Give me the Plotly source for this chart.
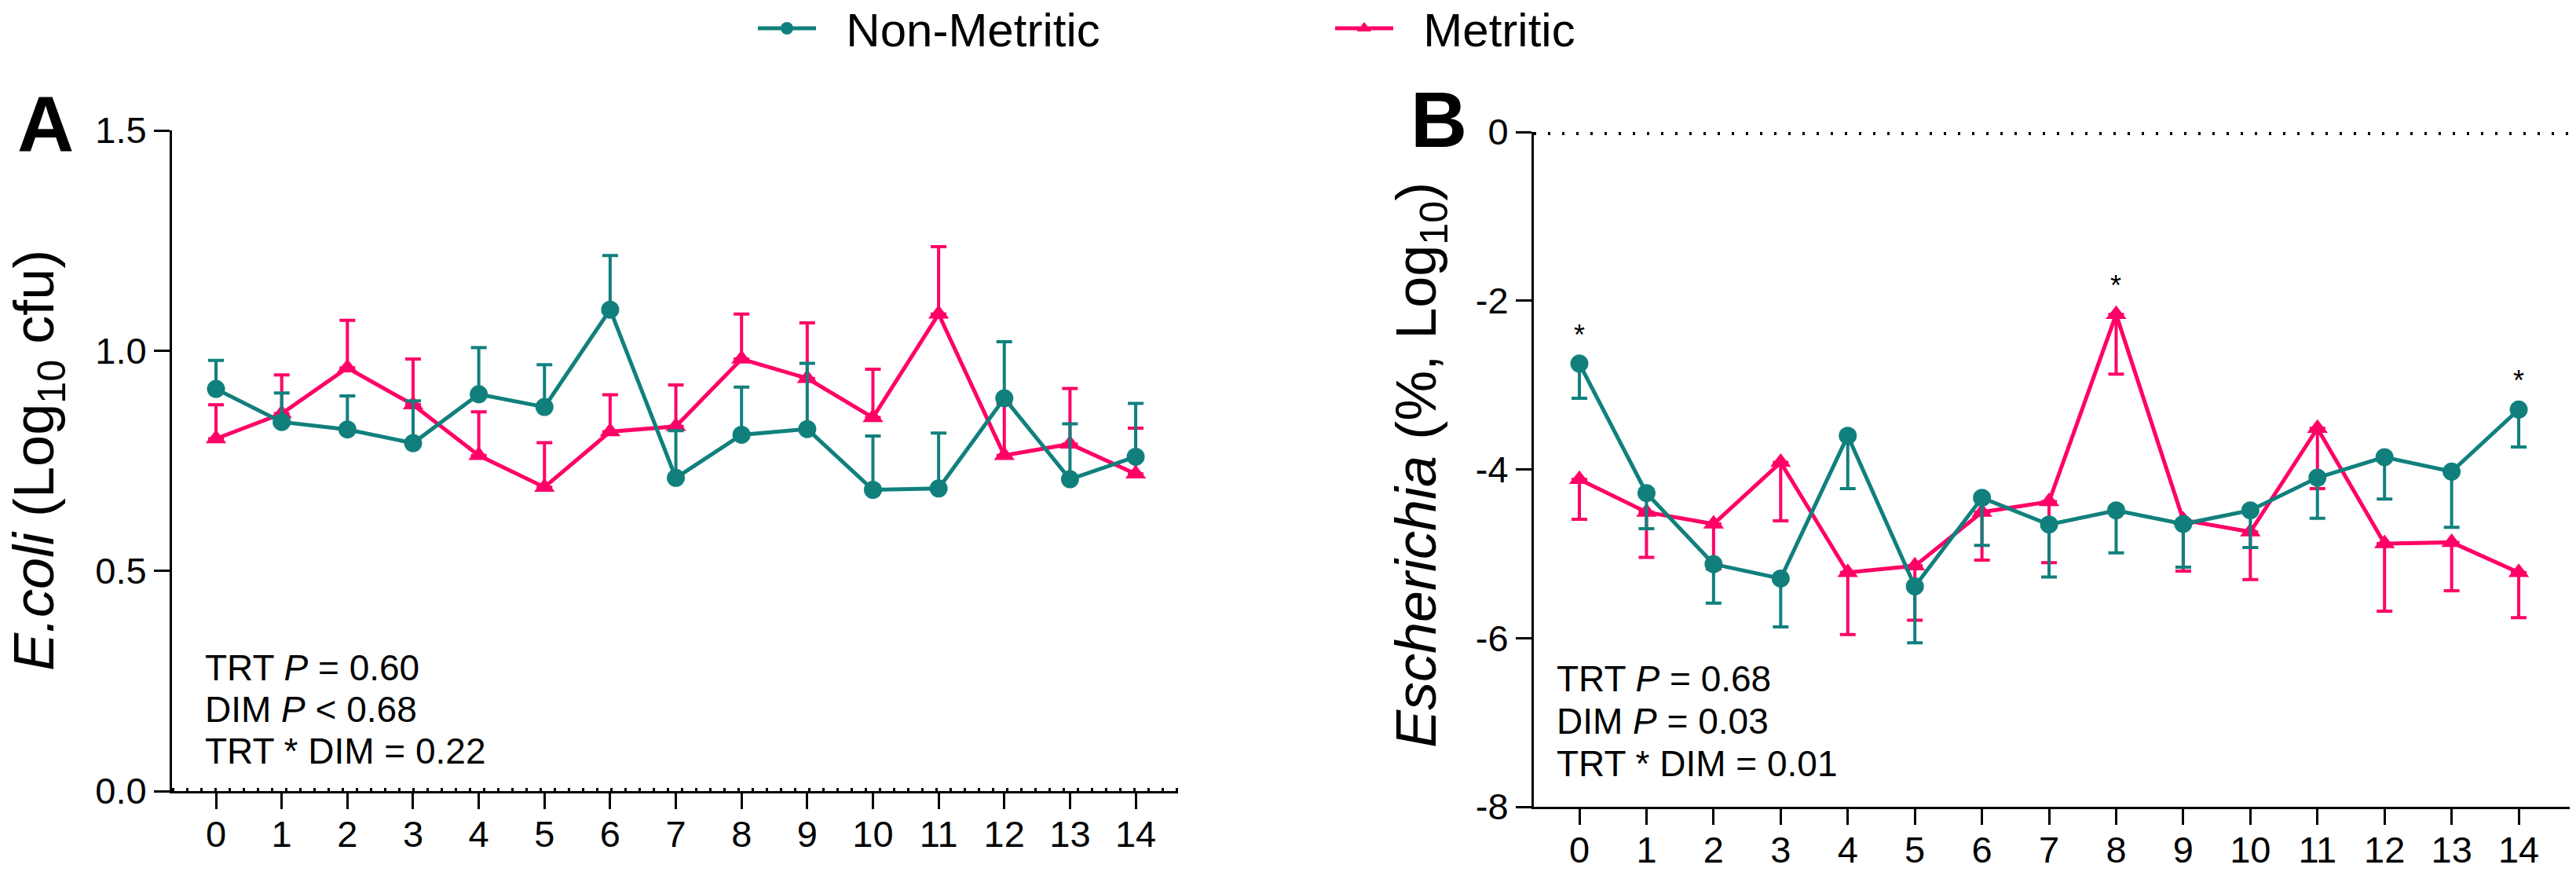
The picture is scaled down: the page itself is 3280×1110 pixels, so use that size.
import plotly.graph_objects as go

# ---------------- data ----------------
dim = list(range(15))
dim_labels = [str(d) for d in dim]

ecoli_nonmetritic = [0.913, 0.838, 0.821, 0.790, 0.901, 0.872, 1.093, 0.711, 0.809, 0.822, 0.684, 0.687, 0.892, 0.708, 0.759]
ecoli_nonmetritic_sem = [0.065, 0.066, 0.076, 0.096, 0.106, 0.096, 0.123, 0.107, 0.108, 0.149, 0.122, 0.126, 0.128, 0.126, 0.121]
ecoli_metritic = [0.800, 0.857, 0.961, 0.877, 0.762, 0.690, 0.816, 0.828, 0.981, 0.937, 0.848, 1.083, 0.762, 0.788, 0.720]
ecoli_metritic_sem = [0.077, 0.088, 0.108, 0.104, 0.099, 0.101, 0.084, 0.094, 0.102, 0.126, 0.110, 0.153, 0.118, 0.126, 0.104]

esch_nonmetritic = [-2.746, -4.281, -5.123, -5.294, -3.601, -5.387, -4.337, -4.654, -4.486, -4.647, -4.486, -4.098, -3.855, -4.026, -3.290]
esch_nonmetritic_sem = [0.411, 0.422, 0.463, 0.574, 0.627, 0.668, 0.565, 0.621, 0.503, 0.513, 0.441, 0.481, 0.497, 0.662, 0.444]
esch_metritic = [-4.119, -4.507, -4.647, -3.917, -5.222, -5.144, -4.507, -4.383, -2.162, -4.601, -4.741, -3.513, -4.880, -4.865, -5.222]
esch_metritic_sem = [0.472, 0.535, 0.533, 0.693, 0.736, 0.644, 0.569, 0.724, 0.708, 0.606, 0.565, 0.715, 0.802, 0.575, 0.535]

ecoli_yticks = [0.0, 0.5, 1.0, 1.5]
ecoli_yticklabels = ["0.0", "0.5", "1.0", "1.5"]
esch_yticks = [0, -2, -4, -6, -8]
esch_yticklabels = ["0", "-2", "-4", "-6", "-8"]

# significant days in panel B: (day, group)
esch_sig_days = [0, 8, 14]
esch_sig_groups = ["Non-Metritic", "Metritic", "Non-Metritic"]

stats_a = ["TRT <i>P</i> = 0.60", "DIM <i>P</i> &lt; 0.68", "TRT * DIM = 0.22"]
stats_b = ["TRT <i>P</i> = 0.68", "DIM <i>P</i> = 0.03", "TRT * DIM = 0.01"]

# ---------------- style ----------------
W, H = 3280, 1110
TEAL = "#11807D"
PINK = "#FF0066"
FONT = "Liberation Sans, Arial, Helvetica, sans-serif"
NBSP = "\u00a0\u00a0"
zeros = [0] * len(dim)

fig = go.Figure()

def add_series(xaxis, yaxis, y, sem, up, name, color, symbol, show, rank):
    err = dict(type="data", symmetric=False, color=color, thickness=4, width=10)
    if up:
        err.update(array=sem, arrayminus=zeros)
    else:
        err.update(array=zeros, arrayminus=sem)
    fig.add_trace(go.Scatter(
        x=dim, y=y, name=NBSP + name, mode="lines+markers",
        line=dict(color=color, width=5),
        marker=dict(color=color, size=23, symbol=symbol),
        error_y=err, showlegend=show, legendrank=rank,
        xaxis=xaxis, yaxis=yaxis))

# panel A (metritic drawn first so non-metritic sits on top)
add_series("x", "y", ecoli_metritic, ecoli_metritic_sem, True, "Metritic", PINK, "triangle-up", True, 2)
add_series("x", "y", ecoli_nonmetritic, ecoli_nonmetritic_sem, True, "Non-Metritic", TEAL, "circle", True, 1)
# panel B
add_series("x2", "y2", esch_metritic, esch_metritic_sem, False, "Metritic", PINK, "triangle-up", False, 2)
add_series("x2", "y2", esch_nonmetritic, esch_nonmetritic_sem, False, "Non-Metritic", TEAL, "circle", False, 1)

axis_common = dict(showline=True, linecolor="black", linewidth=3, ticks="outside",
                   ticklen=20, tickwidth=3, tickcolor="black", showgrid=False,
                   zeroline=False, tickfont=dict(family=FONT, size=47, color="black"))

fig.update_layout(
    width=W, height=H, autosize=False,
    margin=dict(l=0, r=0, t=0, b=0, autoexpand=False),
    paper_bgcolor="white", plot_bgcolor="white",
    font=dict(family=FONT, color="black"),
    xaxis=dict(domain=[219 / W, 1500 / W], range=[-0.67, 14.645], anchor="y",
               tickvals=dim, ticktext=dim_labels, ticklabelstandoff=-8, **axis_common),
    yaxis=dict(domain=[1 - 1007 / H, 1 - 166 / H], range=[0, 1.5], anchor="x",
               tickvals=ecoli_yticks, ticktext=ecoli_yticklabels, **axis_common),
    xaxis2=dict(domain=[1953 / W, 3272 / W], range=[-0.679, 14.76], anchor="y2",
                tickvals=dim, ticktext=dim_labels, ticklabelstandoff=-8, **axis_common),
    yaxis2=dict(domain=[1 - 1027 / H, 1 - 168 / H], range=[-8, 0], anchor="x2",
                tickvals=esch_yticks, ticktext=esch_yticklabels, **axis_common),
    legend=dict(orientation="h", x=960 / W, y=1 - 36 / H, xanchor="left", yanchor="middle",
                font=dict(family=FONT, size=60, color="black"),
                itemwidth=74, entrywidth=646, traceorder="normal",
                bgcolor="rgba(0,0,0,0)"),
)

# dotted reference lines at 0
for xr, yr in (("x domain", "y"), ("x2 domain", "y2")):
    fig.add_shape(type="line", xref=xr, yref=yr, x0=0, x1=1, y0=0, y1=0,
                  line=dict(color="black", width=8, dash="3px,15px"), layer="above")

ann = []
# axis titles
ann.append(dict(text="<i>E.coli</i> (Log<sub>10</sub> cfu)", xref="paper", yref="paper",
                x=48 / W, y=1 - 586 / H, textangle=-90, showarrow=False,
                xanchor="center", yanchor="middle", font=dict(family=FONT, size=72, color="black")))
ann.append(dict(text="<i>Escherichia</i> (%, Log<sub>10</sub>)", xref="paper", yref="paper",
                x=1808 / W, y=1 - 592 / H, textangle=-90, showarrow=False,
                xanchor="center", yanchor="middle", font=dict(family=FONT, size=72, color="black")))
# panel letters
ann.append(dict(text="<b>A</b>", xref="paper", yref="paper", x=58 / W, y=1 - 158 / H,
                showarrow=False, xanchor="center", yanchor="middle",
                font=dict(family=FONT, size=100, color="black")))
ann.append(dict(text="<b>B</b>", xref="paper", yref="paper", x=1832 / W, y=1 - 152 / H,
                showarrow=False, xanchor="center", yanchor="middle",
                font=dict(family=FONT, size=100, color="black")))
# stats text
for i, t in enumerate(stats_a):
    ann.append(dict(text=t, xref="paper", yref="paper", x=259 / W, y=1 - (850 + 53 * i) / H,
                    showarrow=False, xanchor="left", yanchor="middle",
                    font=dict(family=FONT, size=46, color="black")))
for i, t in enumerate(stats_b):
    ann.append(dict(text=t, xref="paper", yref="paper", x=1980 / W, y=1 - (864 + 54 * i) / H,
                    showarrow=False, xanchor="left", yanchor="middle",
                    font=dict(family=FONT, size=46, color="black")))
# significance asterisks
for d, g in zip(esch_sig_days, esch_sig_groups):
    yv = esch_nonmetritic[d] if g == "Non-Metritic" else esch_metritic[d]
    ann.append(dict(text="*", xref="x2", yref="y2", x=d, y=yv, showarrow=False,
                    xanchor="center", yanchor="bottom", yshift=14,
                    font=dict(family=FONT, size=36, color="black")))

fig.update_layout(annotations=ann)

fig.write_html("out.html", config={"displayModeBar": False},
               post_script="document.body.style.margin='0';document.body.style.overflow='hidden';")
